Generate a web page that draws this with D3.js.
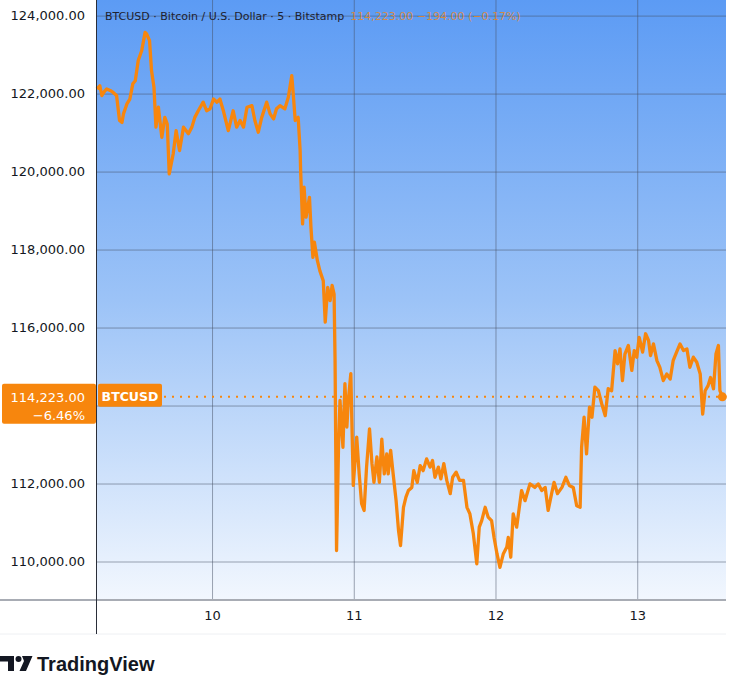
<!DOCTYPE html>
<html>
<head>
<meta charset="utf-8">
<script src="https://cdn.jsdelivr.net/npm/d3@7"></script>
<style>
  body { margin: 0; background: #fff; }
  svg { display: block; font-family: "DejaVu Sans", sans-serif; }
</style>
</head>
<body>
<div id="chart"></div>
<script>
// --- Data (BTCUSD, 5 min, Bitstamp), times are UTC in October 2025 ---
const times = [
  "09 04:30","09 05:00","09 05:20","09 05:45","09 06:10","09 06:45","09 07:15","09 07:50","09 08:20","09 08:45",
  "09 09:00","09 09:35","09 10:05","09 10:35","09 11:00","09 11:30","09 12:05","09 12:40","09 12:55","09 13:25",
  "09 13:45","09 14:10","09 14:30","09 14:55","09 15:10","09 15:30","09 16:00","09 16:25","09 16:45","09 17:25",
  "09 17:55","09 18:30","09 19:10","09 20:00","09 20:35","09 21:05","09 21:40","09 22:30","09 23:05","09 23:40",
  "10 00:15","10 00:50","10 01:20","10 01:55","10 02:45","10 03:35","10 04:10","10 04:45","10 05:20","10 05:55",
  "10 06:45","10 07:15","10 07:50","10 08:25","10 09:15","10 09:50","10 10:25","10 10:55","10 11:30","10 12:20",
  "10 12:55","10 13:30","10 13:45","10 14:05","10 14:35","10 14:55","10 15:00","10 15:20","10 15:35","10 15:55",
  "10 16:30","10 16:45","10 17:05","10 17:20","10 17:50","10 18:15","10 18:50","10 19:10","10 19:35","10 20:00",
  "10 20:20","10 20:40","10 20:50","10 21:05","10 21:25","10 21:40","10 22:10","10 22:30","10 22:50","10 23:05",
  "10 23:30","10 23:45","10 23:55",
  "11 00:30","11 00:55","11 01:20","11 01:45","11 02:10","11 02:40","11 03:05","11 03:25","11 03:55","11 04:20",
  "11 04:45","11 05:10","11 05:35","11 05:50","11 06:15","11 06:40","11 07:10","11 07:35","11 07:55","11 08:25",
  "11 08:50","11 09:15","11 09:50","11 10:10","11 10:45","11 11:15","11 11:45","11 12:20","11 12:55","11 13:20",
  "11 13:45","11 14:20","11 14:45","11 15:15","11 15:45","11 16:20","11 16:45","11 17:20","11 17:55","11 18:35",
  "11 19:10","11 19:40","11 20:15","11 20:50","11 21:15","11 21:40","11 22:15","11 22:45","11 23:20","11 23:45",
  "12 00:15","12 00:45","12 01:20","12 01:55","12 02:10","12 02:35","12 03:00","12 03:35","12 04:25","12 05:00",
  "12 05:50","12 06:40","12 07:15","12 07:50","12 08:25","12 08:55","12 09:30","12 09:55","12 10:30","12 11:15",
  "12 11:55","12 12:30","12 13:10","12 13:45","12 14:20","12 14:35","12 15:00","12 15:25","12 15:55","12 16:20",
  "12 16:50","12 17:25","12 18:00","12 18:35","12 19:05","12 19:40","12 20:15","12 20:40","12 21:05","12 21:30",
  "12 21:55","12 22:30","12 23:05","12 23:30","12 23:55",
  "13 00:20","13 00:55","13 01:25","13 01:55","13 02:15","13 02:45","13 03:20","13 03:50","13 04:25","13 05:00",
  "13 05:35","13 06:05","13 06:40","13 07:15","13 07:50","13 08:25","13 08:55","13 09:30","13 10:05","13 10:40",
  "13 11:05","13 11:30","13 12:00","13 12:25","13 12:55","13 13:20","13 13:45","13 14:00","13 14:25"
];

const prices = [
  122120,122200,121950,122050,122120,122080,122030,121950,121310,121260,
  121480,121735,121860,122250,122330,122850,123100,123570,123530,123360,
  122590,122160,121140,121650,121310,120880,121390,121220,119940,120450,
  121050,120540,121140,120970,121140,121390,121560,121780,121560,121610,
  121860,121780,121860,121560,121050,121560,121140,121310,121140,121650,
  121690,121310,121010,121390,121780,121480,121350,121610,121690,121610,
  121905,122460,121990,121310,121390,120540,120030,118660,119600,118830,
  119340,118570,117800,118190,117720,117460,117200,116140,117030,116690,
  117080,116860,115150,110280,112930,114130,112930,114560,113450,114130,
  114820,113100,111950,
  113190,112250,111480,111310,112420,113400,112510,112030,112680,112030,
  113140,112250,112760,112250,112850,112250,111560,110790,110410,111390,
  111650,111820,111900,112330,112030,112460,112330,112630,112420,112590,
  112160,112420,112120,112510,112080,111740,112160,112290,112080,112080,
  111390,111220,110710,109940,110880,111050,111390,111140,111050,110620,
  110200,109850,110200,110370,110620,110110,111220,110880,111820,111560,
  111990,111900,111990,111820,111900,111310,111740,112030,111740,111900,
  112160,111950,111900,111430,111390,112930,113700,112760,113960,113700,
  114470,114380,114040,113740,114430,114380,115410,115070,115450,114640,
  115320,115540,114900,115410,115240,
  115750,115370,115840,115670,115280,115580,115150,114980,114640,114810,
  114680,115150,115370,115580,115410,115450,114980,115240,115110,114810,
  113780,114380,114510,114720,114430,115320,115540,114380,114223
];

const priceTicks = [110000, 112000, 114000, 116000, 118000, 120000, 122000, 124000];
const dayTicks = ["10", "11", "12", "13"];
const timeDomain = ["09 04:21", "13 15:02"];
const priceDomain = [109000, 124400];

const symbolLine = "BTCUSD · Bitcoin / U.S. Dollar · 5 · Bitstamp";
const lastPrice = 114223.00;
const lastChange = -194.00;
const lastChangePct = -0.17;
const periodChangePct = -6.46;

// --- Layout ---
const W = 730, H = 683;
const plot = { left: 96, right: 726, top: 0, bottom: 600 };
const orange = "#f7860d";

const parseT = s => d3.utcParse("%Y-%m-%d %H:%M")("2025-10-" + s);
const data = times.map((t, i) => ({ t: parseT(t), p: prices[i] }));

const x = d3.scaleUtc()
    .domain(timeDomain.map(parseT))
    .range([plot.left, plot.right]);
const y = d3.scaleLinear()
    .domain(priceDomain)
    .range([plot.bottom + 0.5, plot.top]);

const svg = d3.select("#chart").append("svg")
    .attr("width", W)
    .attr("height", H);

const defs = svg.append("defs");
const grad = defs.append("linearGradient")
    .attr("id", "bg").attr("x1", 0).attr("y1", 0).attr("x2", 0).attr("y2", 1);
grad.append("stop").attr("offset", "0%").attr("stop-color", "#5c9bf4");
grad.append("stop").attr("offset", "50%").attr("stop-color", "#9cc3f7");
grad.append("stop").attr("offset", "100%").attr("stop-color", "#f2f7fe");

// plot background
svg.append("rect")
    .attr("x", plot.left).attr("y", plot.top)
    .attr("width", plot.right - plot.left).attr("height", plot.bottom - plot.top)
    .attr("fill", "url(#bg)");

// grid lines
const gridColor = "rgba(70,80,100,0.5)";
svg.append("g")
    .attr("transform", `translate(${plot.left},0)`)
    .call(d3.axisLeft(y).tickValues(priceTicks).tickSize(-(plot.right - plot.left)).tickFormat(""))
    .call(g => g.select(".domain").remove())
    .call(g => g.selectAll("line").attr("stroke", gridColor));

const dayDates = dayTicks.map(d => parseT(d + " 00:00"));
svg.append("g")
    .attr("transform", `translate(0,${plot.bottom})`)
    .call(d3.axisBottom(x).tickValues(dayDates).tickSize(-(plot.bottom - plot.top)).tickFormat(""))
    .call(g => g.select(".domain").remove())
    .call(g => g.selectAll("line").attr("stroke", gridColor));

// legend at top
const legend = svg.append("text")
    .attr("x", 105).attr("y", 20)
    .attr("font-size", 11);
legend.append("tspan")
    .attr("fill", "#1e2230")
    .text(symbolLine);
const fmt2 = d3.format(",.2f");
const minus = s => s.replace("-", "\u2212");
legend.append("tspan")
    .attr("dx", 6)
    .attr("fill", orange).attr("fill-opacity", 0.75)
    .text(`${fmt2(lastPrice)}  ${minus(fmt2(lastChange))} (${minus(fmt2(lastChangePct))}%)`);

// price line
const line = d3.line()
    .x(d => x(d.t))
    .y(d => y(d.p));

svg.append("path")
    .datum(data)
    .attr("fill", "none")
    .attr("stroke", orange)
    .attr("stroke-width", 3.3)
    .attr("stroke-linejoin", "round")
    .attr("d", line);

// last price dotted line + dot
const last = data[data.length - 1];
svg.append("line")
    .attr("x1", 164).attr("x2", x(last.t) - 4)
    .attr("y1", y(last.p)).attr("y2", y(last.p))
    .attr("stroke", orange)
    .attr("stroke-width", 2)
    .attr("stroke-dasharray", "2 6");
svg.append("circle")
    .attr("cx", x(last.t)).attr("cy", y(last.p))
    .attr("r", 4.5)
    .attr("fill", orange);

// axes area
svg.append("line")
    .attr("x1", 0).attr("x2", plot.right)
    .attr("y1", plot.bottom).attr("y2", plot.bottom)
    .attr("stroke", "#a8acb4").attr("stroke-width", 2);
svg.append("line")
    .attr("x1", 0).attr("x2", plot.right)
    .attr("y1", 634).attr("y2", 634)
    .attr("stroke", "#eef0f3").attr("stroke-width", 1);
svg.append("line")
    .attr("x1", plot.left + 0.5).attr("x2", plot.left + 0.5)
    .attr("y1", 0).attr("y2", 634)
    .attr("stroke", "#2a2e39").attr("stroke-width", 1);

// y axis labels (the one under the last-price label is covered, so skip it)
const ly = y(lastPrice);
const labelTicks = priceTicks.filter(v => Math.abs(y(v) - ly) > 30);
svg.append("g")
    .attr("transform", `translate(${plot.left},0)`)
    .call(d3.axisLeft(y).tickValues(labelTicks).tickSize(0).tickPadding(11).tickFormat(fmt2))
    .call(g => g.select(".domain").remove())
    .call(g => g.selectAll("text")
        .attr("font-family", "DejaVu Sans, sans-serif")
        .attr("font-size", 13)
        .attr("fill", "#131722"));

// x axis labels
svg.append("g")
    .attr("transform", `translate(0,${plot.bottom})`)
    .call(d3.axisBottom(x).tickValues(dayDates).tickSize(0).tickPadding(11).tickFormat(d3.utcFormat("%-d")))
    .call(g => g.select(".domain").remove())
    .call(g => g.selectAll("text")
        .attr("font-family", "DejaVu Sans, sans-serif")
        .attr("font-size", 13)
        .attr("fill", "#131722"));

// last price label on the axis
svg.append("rect")
    .attr("x", 2).attr("y", ly - 13)
    .attr("width", plot.left - 2).attr("height", 40)
    .attr("rx", 2)
    .attr("fill", orange);
svg.append("text")
    .attr("x", 85).attr("y", ly + 5)
    .attr("text-anchor", "end")
    .attr("font-size", 13).attr("fill", "#fff")
    .text(fmt2(lastPrice));
svg.append("text")
    .attr("x", 85).attr("y", ly + 23)
    .attr("text-anchor", "end")
    .attr("font-size", 13).attr("fill", "#fff")
    .text(minus(fmt2(periodChangePct)) + "%");

svg.append("rect")
    .attr("x", plot.left + 2).attr("y", ly - 13)
    .attr("width", 64).attr("height", 23)
    .attr("rx", 2)
    .attr("fill", orange);
svg.append("text")
    .attr("x", plot.left + 34).attr("y", ly + 4)
    .attr("text-anchor", "middle")
    .attr("font-size", 12.5).attr("font-weight", "bold").attr("fill", "#fff")
    .text("BTCUSD");

// TradingView mark
const logo = svg.append("g").attr("fill", "#131722");
logo.append("path").attr("d", "M0,656 H14 V671 H8 V661.5 H0 Z");
logo.append("circle").attr("cx", 18.5).attr("cy", 659).attr("r", 3);
logo.append("path").attr("d", "M22,656 H32.5 L26,671 H19.5 L24,661 Z");
svg.append("text")
    .attr("x", 37).attr("y", 671)
    .attr("font-family", "Liberation Sans, Arial, sans-serif")
    .attr("font-size", 20).attr("font-weight", "bold")
    .attr("fill", "#131722")
    .text("TradingView");
</script>
</body>
</html>
